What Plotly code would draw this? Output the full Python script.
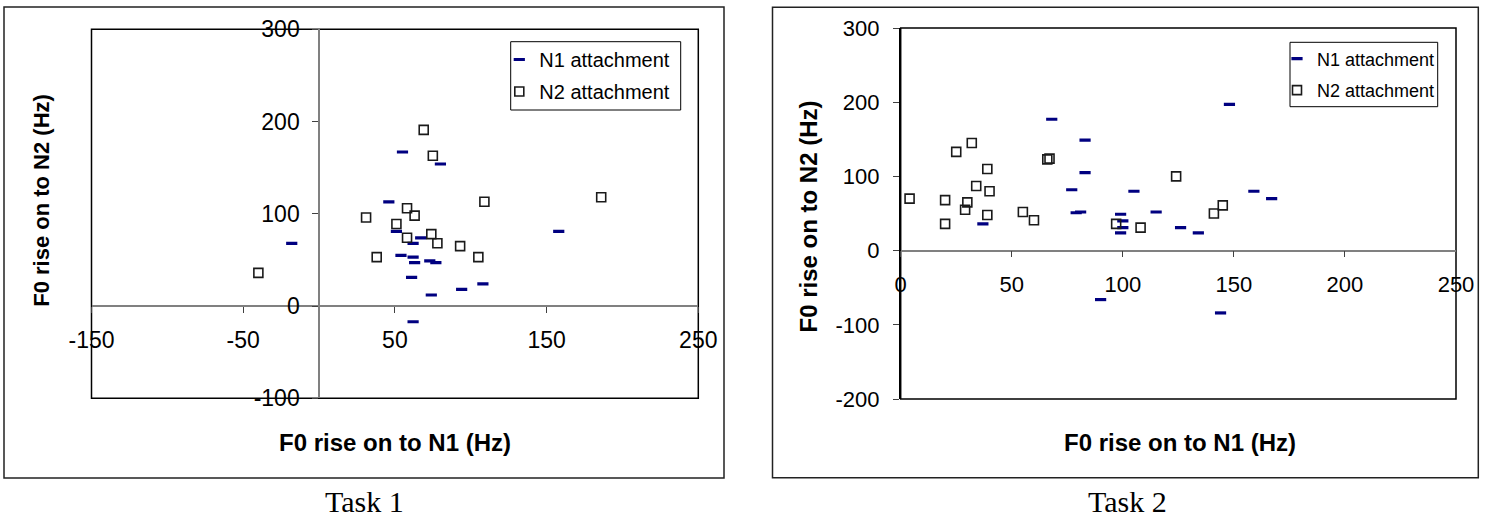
import plotly.graph_objects as go

# ---- data: F0 rise (Hz) on to N1 (x) and on to N2 (y) ----
# Task 1
t1_n1_x = [-18, 55, 80, 46, 51, 67, 62, 54, 62, 63, 73, 77, 61, 74, 94, 108, 62, 158]
t1_n1_y = [68, 167, 154, 113, 81, 74, 68, 55, 53, 47, 49, 47, 31, 12, 18, 24, -17, 81]
t1_n2_x = [-40, 31, 38, 51, 58, 63, 58, 69, 75, 74, 78, 93, 105, 109, 186]
t1_n2_y = [36, 96, 53, 89, 106, 98, 74, 191, 163, 78, 68, 65, 53, 113, 118]

# Task 2
t2_n1_x = [68, 83, 83, 77, 79, 81, 37, 99, 100, 100, 99, 105, 115, 126, 134, 148, 159, 167, 90, 144]
t2_n1_y = [177, 149, 105, 82, 51, 52, 36, 49, 40, 31, 24, 80, 52, 31, 24, 197, 80, 70, -66, -84]
t2_n2_x = [4, 20, 20, 25, 32, 29, 30, 34, 39, 40, 39, 55, 60, 66, 67, 97, 108, 124, 141, 145]
t2_n2_y = [70, 36, 68, 133, 145, 55, 65, 87, 110, 80, 48, 52, 41, 123, 124, 36, 31, 100, 50, 61]

# axis ticks and their labels (plain hyphen for negatives)
t1_x_ticks = [-150, -50, 50, 150, 250]
t1_x_labels = ["-150", "-50", "50", "150", "250"]
t1_y_ticks = [-100, 0, 100, 200, 300]
t1_y_labels = ["-100", "0", "100", "200", "300"]
t2_x_ticks = [0, 50, 100, 150, 200, 250]
t2_x_labels = ["0", "50", "100", "150", "200", "250"]
t2_y_ticks = [-200, -100, 0, 100, 200, 300]
t2_y_labels = ["-200", "-100", "0", "100", "200", "300"]
t1_x_range = [-150, 250]
t1_y_range = [-100, 300]
t2_x_range = [0, 250]
t2_y_range = [-200, 300]

series_names = ["N1 attachment", "N2 attachment"]
x_title = "F0 rise on to N1 (Hz)"
y_title = "F0 rise on to N2 (Hz)"
captions = ["Task 1", "Task 2"]

# ---- page geometry (pixels) ----
W, H = 1492, 521
SANS = "Liberation Sans, Arial, sans-serif"
SERIF = "Liberation Serif, Times New Roman, serif"
NAVY = "#000080"
GREY = "#808080"


def fx(p):
    return p / W


def fy(p):
    return 1 - p / H


L_X, L_Y = (91.5, 698.3), (29.3, 398.3)
R_X, R_Y = (900.7, 1456.0), (28.0, 399.0)

l_xdom = [fx(L_X[0]), fx(L_X[1])]
l_ydom = [fy(L_Y[1]), fy(L_Y[0])]
r_xdom = [fx(R_X[0]), fx(R_X[1])]
r_ydom = [fy(R_Y[1]), fy(R_Y[0])]


def at_value(v, rng, dom):
    return dom[0] + (v - rng[0]) / (rng[1] - rng[0]) * (dom[1] - dom[0])


dash_marker = dict(symbol="line-ew", size=8, line=dict(color=NAVY, width=3.2), color=NAVY)
box_marker = dict(symbol="square-open", size=9, color="#1a1a1a", line=dict(width=1.6))

fig = go.Figure()
fig.add_trace(go.Scatter(x=t1_n1_x, y=t1_n1_y, mode="markers", name=series_names[0],
                         marker=dash_marker, xaxis="x", yaxis="y", legend="legend",
                         legendgroup="a"))
fig.add_trace(go.Scatter(x=t1_n2_x, y=t1_n2_y, mode="markers", name=series_names[1],
                         marker=box_marker, xaxis="x", yaxis="y", legend="legend",
                         legendgroup="b"))
fig.add_trace(go.Scatter(x=t2_n1_x, y=t2_n1_y, mode="markers", name=series_names[0],
                         marker=dash_marker, xaxis="x2", yaxis="y2", legend="legend2",
                         legendgroup="c"))
fig.add_trace(go.Scatter(x=t2_n2_x, y=t2_n2_y, mode="markers", name=series_names[1],
                         marker=box_marker, xaxis="x2", yaxis="y2", legend="legend2",
                         legendgroup="d"))

tick_font_l = dict(family=SANS, size=23, color="black")
tick_font_r = dict(family=SANS, size=22, color="black")
common = dict(ticks="outside", ticklen=6, tickcolor="#404040", tickwidth=1,
              showgrid=False, zeroline=False, automargin=False, tickmode="array")

fig.update_layout(
    width=W, height=H,
    margin=dict(l=0, r=0, t=0, b=0, pad=0, autoexpand=False),
    paper_bgcolor="white", plot_bgcolor="white",
    showlegend=True,
    # Task 1: axes cross at the origin
    xaxis=dict(domain=l_xdom, range=t1_x_range, tickvals=t1_x_ticks, ticktext=t1_x_labels,
               anchor="free", position=at_value(0, t1_y_range, l_ydom),
               showline=True, linecolor=GREY, linewidth=1.5,
               ticklabelstandoff=8, tickfont=tick_font_l, **common),
    yaxis=dict(domain=l_ydom, range=t1_y_range, tickvals=t1_y_ticks, ticktext=t1_y_labels,
               anchor="free", position=at_value(0, t1_x_range, l_xdom),
               showline=True, linecolor=GREY, linewidth=1.5,
               ticklabelstandoff=8, tickfont=tick_font_l, **common),
    # Task 2: x axis crosses at y = 0
    xaxis2=dict(domain=r_xdom, range=t2_x_range, tickvals=t2_x_ticks, ticktext=t2_x_labels,
                anchor="free", position=at_value(0, t2_y_range, r_ydom),
                showline=True, linecolor=GREY, linewidth=1.5,
                ticklabelstandoff=8, tickfont=tick_font_r, **common),
    yaxis2=dict(domain=r_ydom, range=t2_y_range, tickvals=t2_y_ticks, ticktext=t2_y_labels,
                anchor="x2", showline=True, linecolor="black", linewidth=1.5,
                ticklabelstandoff=9, tickfont=tick_font_r, **common),
    legend=dict(x=fx(499.3), y=fy(40), xanchor="left", yanchor="top",
                bgcolor="rgba(0,0,0,0)", borderwidth=0,
                font=dict(family=SANS, size=20, color="black"),
                tracegroupgap=3),
    legend2=dict(x=fx(1277), y=fy(40.5), xanchor="left", yanchor="top",
                 bgcolor="rgba(0,0,0,0)", borderwidth=0,
                 font=dict(family=SANS, size=18, color="black"),
                 tracegroupgap=5),
)

shapes = []
# outer chart frames
for x0, y0, x1, y1 in [(4, 7, 724, 478), (772.5, 7.3, 1478.3, 477.7)]:
    shapes.append(dict(type="rect", xref="paper", yref="paper",
                       x0=fx(x0), x1=fx(x1), y0=fy(y1), y1=fy(y0),
                       line=dict(color="#222222", width=1.5), layer="below"))
# plot-area frames
for xr, yr in [("x domain", "y domain"), ("x2 domain", "y2 domain")]:
    shapes.append(dict(type="rect", xref=xr, yref=yr, x0=0, x1=1, y0=0, y1=1,
                       line=dict(color="black", width=1.5), layer="below"))
# legend boxes
for x0, y0, x1, y1 in [(510.7, 41.7, 680.7, 110), (1290, 42.3, 1437.7, 106.7)]:
    shapes.append(dict(type="rect", xref="paper", yref="paper",
                       x0=fx(x0), x1=fx(x1), y0=fy(y1), y1=fy(y0),
                       line=dict(color="black", width=1), fillcolor="white", layer="below"))
fig.update_layout(shapes=shapes)

title_font_x = dict(family=SANS, size=24, color="black", weight="bold")
caption_font = dict(family=SERIF, size=30, color="black")
annotations = [
    dict(text=x_title, x=fx(394.5), y=fy(442.7), font=title_font_x, yanchor="middle"),
    dict(text=x_title, x=fx(1180), y=fy(442), font=title_font_x, yanchor="middle"),
    dict(text=y_title, x=fx(42), y=fy(200.8), textangle=-90, yanchor="middle",
         font=dict(family=SANS, size=22, color="black", weight="bold")),
    dict(text=y_title, x=fx(808), y=fy(216.5), textangle=-90, yanchor="middle",
         font=dict(family=SANS, size=24, color="black", weight="bold")),
    dict(text=captions[0], x=fx(364.5), y=fy(520), font=caption_font, yanchor="bottom"),
    dict(text=captions[1], x=fx(1127), y=fy(520), font=caption_font, yanchor="bottom"),
]
for a in annotations:
    a.update(xref="paper", yref="paper", showarrow=False, xanchor="center")
fig.update_layout(annotations=annotations)

fig.write_html("out.html")
